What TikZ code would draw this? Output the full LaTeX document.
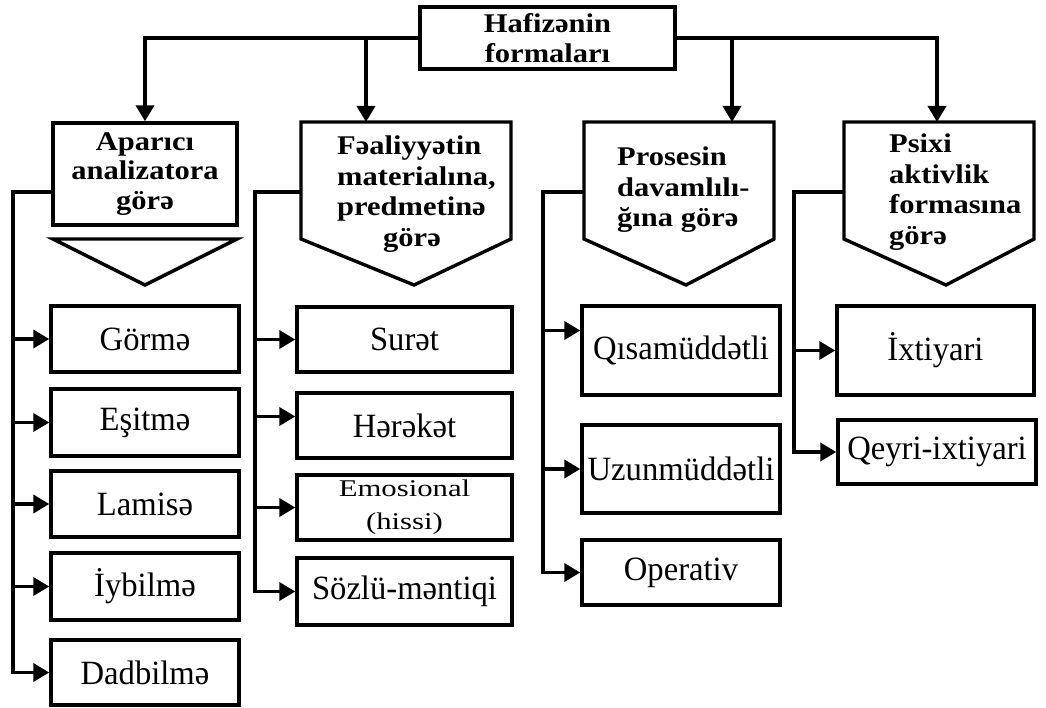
\documentclass[tikz,border=0pt]{standalone}
\usepackage{fontspec}
\setmainfont{Liberation Serif}
\newfontfamily\rg[FakeStretch=0.96]{Liberation Serif}
\newfontfamily\rgb[FakeStretch=1.13]{Liberation Serif}
\newfontfamily\rgw[FakeStretch=1.28]{Liberation Serif}
\usetikzlibrary{arrows.meta,calc}
\begin{document}
\begin{tikzpicture}[x=1pt,y=-1pt,
  box/.style={draw, line width=3.4pt, inner sep=0pt, align=center,
    font=\rg\fontsize{34}{36}\selectfont},
  hbox/.style={box, font=\rgb\bfseries\fontsize{27}{29.5}\selectfont},
  hdr/.style={inner sep=0pt, font=\rgb\bfseries\fontsize{27}{30.5}\selectfont},
  conn/.style={-{Triangle[length=16pt,width=18pt]}, line width=3.6pt, line join=miter},
  shp/.style={draw, line width=3.4pt, line join=miter}]
\useasboundingbox (0,0) rectangle (1046,708);

% top
\node[hbox, minimum width=255pt, minimum height=62pt] (top) at (547.5,38) {Hafizənin\\formaları};

% category 1
\node[hbox, minimum width=184pt, minimum height=102pt] (b1) at (145,174) {Aparıcı\\analizatora\\görə};
\draw[shp] (53,239) -- (237,239) -- (145,285) -- cycle;

% category 2
\draw[shp] (301,122) -- (511,122) -- (511,239) -- (414,285) -- (301,239) -- cycle;
\node[hdr, align=left, anchor=west] (p2) at (337,194) {Fəaliyyətin\\materialına,\\predmetinə\\\hspace*{46pt}görə};
\coordinate (p2n) at (366,122);
\coordinate (p2w) at (301,192);

% category 3
\draw[shp] (584,122) -- (774,122) -- (774,239) -- (686,285) -- (584,239) -- cycle;
\node[hdr, align=left, anchor=west] (p3) at (617,190) {Prosesin\\davamlılı-\\ğına görə};
\coordinate (p3n) at (732,122);
\coordinate (p3w) at (584,192);

% category 4
\draw[shp] (844,122) -- (1034,122) -- (1034,239) -- (946,285) -- (844,239) -- cycle;
\node[hdr, align=left, anchor=west] (p4) at (889,192) {Psixi\\aktivlik\\formasına\\görə};
\coordinate (p4n) at (937,122);
\coordinate (p4w) at (844,192);

% top connectors
\draw[conn] (top.west) -| (b1.north);
\draw[conn] (top.east) -| (p4n);
\draw[conn] (top.west -| p2n) -- (p2n);
\draw[conn] (top.east -| p3n) -- (p3n);

% column 1 boxes
\node[box, minimum width=188pt, minimum height=66pt] (g1) at (145,339) {Görmə};
\node[box, minimum width=188pt, minimum height=67pt] (g2) at (145,422.5) {Eşitmə};
\node[box, minimum width=188pt, minimum height=66pt] (g3) at (145,504) {Lamisə};
\node[box, minimum width=188pt, minimum height=67pt] (g4) at (145,586.5) {İybilmə};
\node[box, minimum width=188pt, minimum height=65pt] (g5) at (145,672.5) {Dadbilmə};
\coordinate (s1) at (13,192);
\draw[conn] (b1.west |- s1) -- (s1) |- (g5.west);
\foreach \n in {g1,g2,g3,g4} \draw[conn] (s1 |- \n.west) -- (\n.west);

% column 2 boxes
\node[box, minimum width=215pt, minimum height=65pt] (h1) at (404.5,339.5) {Surət};
\node[box, minimum width=215pt, minimum height=65pt] (h2) at (404.5,425.5) {Hərəkət};
\node[box, minimum width=215pt, minimum height=65pt, font=\rgw\fontsize{24}{33}\selectfont] (h3) at (404.5,507.5) {Emosional\\(hissi)};
\node[box, minimum width=215pt, minimum height=67pt] (h4) at (404.5,591.5) {Sözlü-məntiqi};
\coordinate (s2) at (255,192);
\draw[conn] (p2w) -- (s2) |- (h4.west);
\draw[conn] (s2 |- h1.west) -- (h1.west);
\draw[conn] ($(s2 |- h2.west)+(0,-9)$) -- ($(h2.west)+(0,-9)$);
\draw[conn] (s2 |- h3.west) -- (h3.west);

% column 3 boxes
\node[box, minimum width=198pt, minimum height=89pt] (q1) at (681,350.5) {Qısamüddətli};
\node[box, minimum width=198pt, minimum height=88pt] (q2) at (681,469) {Uzunmüddətli};
\node[box, minimum width=198pt, minimum height=65pt] (q3) at (681,572.5) {Operativ};
\coordinate (s3) at (543,192);
\draw[conn] (p3w) -- (s3) |- (q3.west);
\draw[conn] ($(s3 |- q1.west)+(0,-20)$) -- ($(q1.west)+(0,-20)$);
\draw[conn] (s3 |- q2.west) -- (q2.west);

% column 4 boxes
\node[box, minimum width=197pt, minimum height=89pt] (r1) at (935.5,350.5) {İxtiyari};
\node[box, minimum width=198pt, minimum height=64pt] (r2) at (937,452) {Qeyri-ixtiyari};
\coordinate (s4) at (794,192);
\draw[conn] (p4w) -- (s4) |- (r2.west);
\draw[conn] (s4 |- r1.west) -- (r1.west);
\end{tikzpicture}
\end{document}
